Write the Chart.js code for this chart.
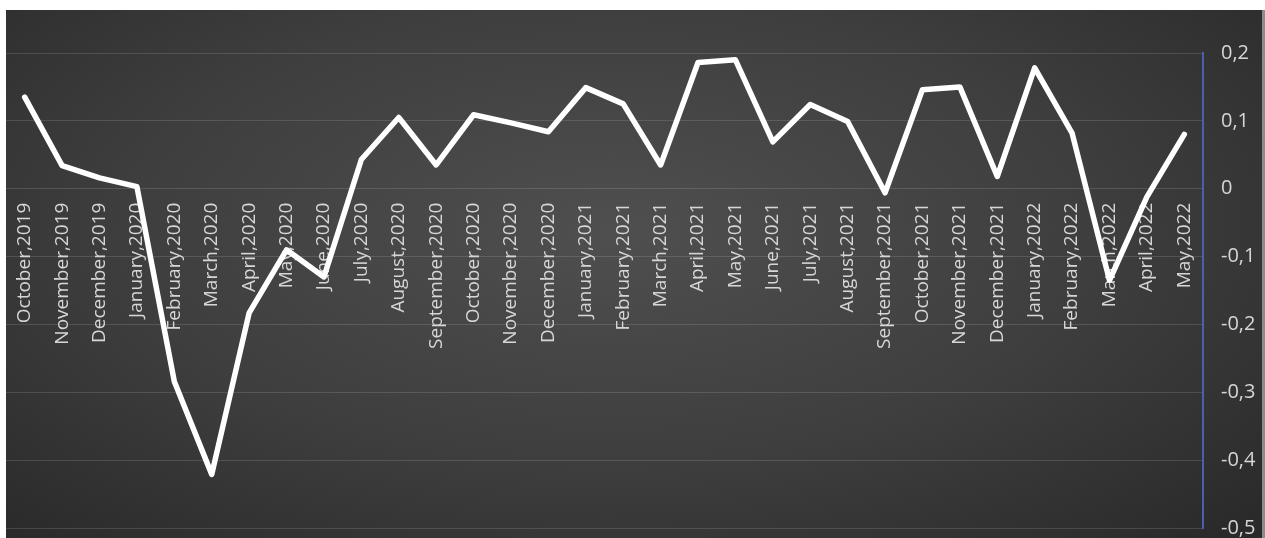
<!DOCTYPE html>
<html>
<head>
<meta charset="utf-8">
<script src="https://cdn.jsdelivr.net/npm/chart.js@4"></script>
<style>
    html, body { margin: 0; padding: 0; background: #fff; }
    body { width: 1265px; height: 538px; position: relative; overflow: hidden; }
    .panel {
        position: absolute;
        left: 6px;
        top: 10px;
        width: 1259px;
        height: 528px;
        background: radial-gradient(ellipse 70% 80% at 48% 42%, #4f4f4f 0%, #3e3e3e 55%, #2a2a2a 100%);
    }
    .panel::after {
        content: '';
        position: absolute;
        right: 0;
        top: 0;
        width: 3px;
        height: 100%;
        background: #8c8c8c;
    }
    .panel canvas { display: block; }
</style>
</head>
<body>
<div class="panel">
    <canvas id="trendChart" width="1259" height="528"></canvas>
</div>
<script>
// 月份標籤
const months = [
    'October,2019', 'November,2019', 'December,2019', 'January,2020', 'February,2020',
    'March,2020', 'April,2020', 'May,2020', 'June,2020', 'July,2020', 'August,2020',
    'September,2020', 'October,2020', 'November,2020', 'December,2020', 'January,2021',
    'February,2021', 'March,2021', 'April,2021', 'May,2021', 'June,2021', 'July,2021',
    'August,2021', 'September,2021', 'October,2021', 'November,2021', 'December,2021',
    'January,2022', 'February,2022', 'March,2022', 'April,2022', 'May,2022'
];

// 每月數值
const values = [
    0.135, 0.034, 0.016, 0.003, -0.284, -0.421, -0.183, -0.090, -0.130, 0.043, 0.105,
    0.035, 0.109, 0.097, 0.084, 0.149, 0.125, 0.035, 0.186, 0.190, 0.069, 0.124,
    0.099, -0.006, 0.146, 0.150, 0.018, 0.178, 0.082, -0.135, -0.012, 0.080
];

// Y 軸範圍
const yMin = -0.5;
const yMax = 0.2;
const yStep = 0.1;

document.addEventListener('DOMContentLoaded', function () {
    const canvas = document.getElementById('trendChart');
    if (!canvas) return;

    new Chart(canvas, {
        type: 'line',
        data: {
            labels: months,
            datasets: [{
                data: values,
                borderColor: '#ffffff',
                borderWidth: 5.5,
                borderJoinStyle: 'round',
                borderCapStyle: 'round',
                pointRadius: 0,
                tension: 0,
                fill: false
            }]
        },
        options: {
            responsive: false,
            animation: false,
            layout: {
                padding: { top: 43, bottom: 10, left: 0, right: 0 }
            },
            plugins: {
                legend: { display: false },
                tooltip: { enabled: false }
            },
            scales: {
                x: {
                    type: 'category',
                    offset: true,
                    position: { y: 0 },
                    grid: { display: false, drawTicks: false },
                    border: { display: false },
                    ticks: {
                        autoSkip: false,
                        minRotation: 90,
                        maxRotation: 90,
                        padding: 14,
                        color: '#d6d6d6',
                        font: { family: "'Open Sans', sans-serif", size: 19 }
                    }
                },
                y: {
                    position: 'right',
                    min: yMin,
                    max: yMax,
                    afterFit: function (axis) {
                        // 固定軸寬，不讓刻度文字撐開上下邊距
                        axis.width = 62;
                        axis.paddingTop = 0;
                        axis.paddingBottom = 0;
                    },
                    grid: {
                        color: 'rgba(255, 255, 255, 0.13)',
                        lineWidth: 1,
                        drawTicks: false
                    },
                    border: { color: '#4a5fae', width: 2 },
                    ticks: {
                        stepSize: yStep,
                        padding: 18,
                        color: '#d6d6d6',
                        font: { family: "'Open Sans', sans-serif", size: 20 },
                        callback: function (value) {
                            const v = Math.round(value * 10) / 10;
                            return v === 0 ? '0' : v.toFixed(1).replace('.', ',');
                        }
                    }
                }
            }
        }
    });
});
</script>
</body>
</html>
